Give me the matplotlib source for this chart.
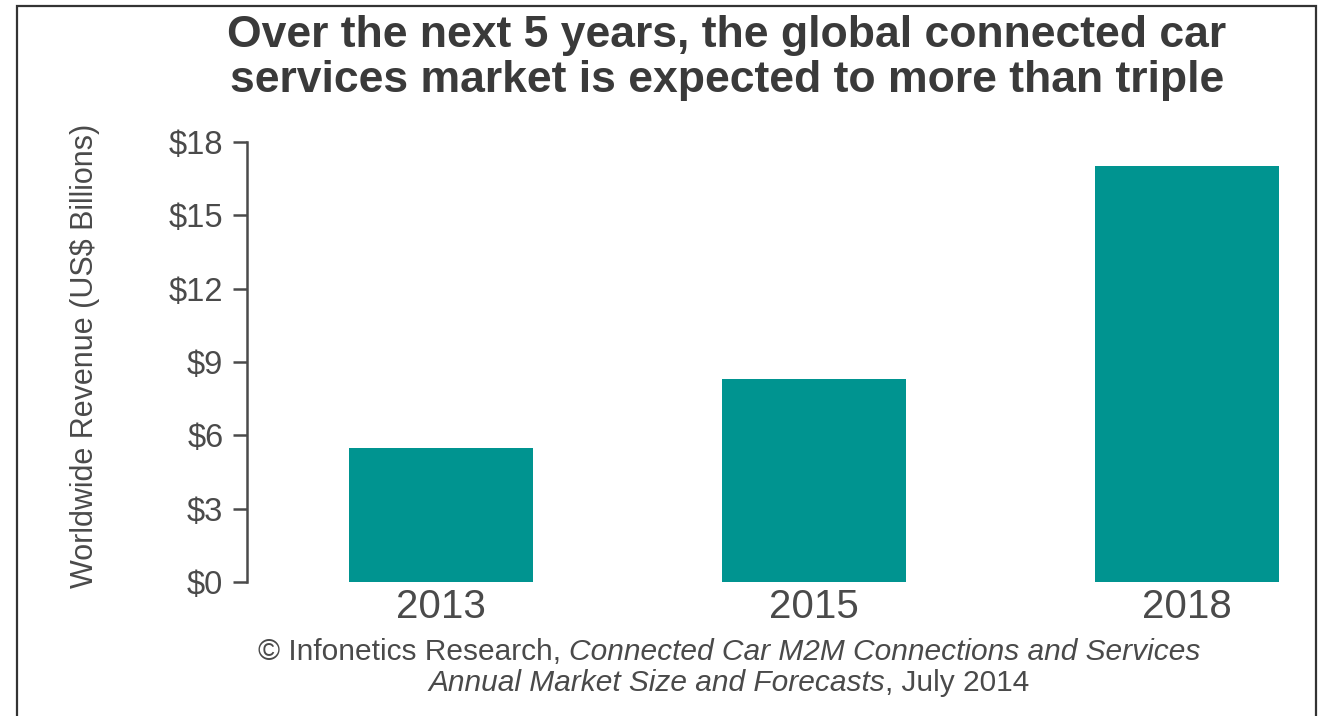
import matplotlib
matplotlib.use("Agg")
import matplotlib.pyplot as plt
from matplotlib.patches import Rectangle

years = ["2013", "2015", "2018"]
revenue = [5.5, 8.3, 17.0]
yticks = [0, 3, 6, 9, 12, 15, 18]
ytick_labels = ["$0", "$3", "$6", "$9", "$12", "$15", "$18"]

title_lines = ["Over the next 5 years, the global connected car",
               "services market is expected to more than triple"]
ylabel = "Worldwide Revenue (US$ Billions)"
source_line1 = [("\u00a9 Infonetics Research, ", "normal"),
                ("Connected Car M2M Connections and Services", "italic")]
source_line2 = [("Annual Market Size and Forecasts", "italic"),
                (", July 2014", "normal")]

TEAL = "#009490"
DARK = "#3a3a3a"
GRAY = "#4a4a4a"

plt.rcParams["font.family"] = ["Liberation Sans", "DejaVu Sans"]

W, H = 1332, 716
fig = plt.figure(figsize=(W / 100, H / 100), dpi=100)

ax = fig.add_axes([247 / W, 134 / H, (1300 - 247) / W, 440 / H])
x = list(range(len(years)))
ax.bar(x, revenue, width=0.493, color=TEAL)
ax.set_xlim(-0.52, 2.303)
ax.set_ylim(0, 18)

ax.set_yticks(yticks)
ax.set_yticklabels(ytick_labels)
ax.set_xticks(x)
ax.set_xticklabels(years)

for side in ["top", "right", "bottom"]:
    ax.spines[side].set_visible(False)
ax.spines["left"].set_color(GRAY)
ax.spines["left"].set_linewidth(1.8)
ax.tick_params(axis="y", length=10, width=1.8, color=GRAY, pad=7,
               labelsize=23.5, labelcolor=GRAY)
ax.tick_params(axis="x", length=0, pad=4, labelsize=29, labelcolor=GRAY)

ax.set_ylabel(ylabel, fontsize=22, color=GRAY)
ax.yaxis.set_label_coords(100 / W, 360 / H, transform=fig.transFigure)

# title, two lines
fig.text(727 / W, 1 - 47 / H, title_lines[0], ha="center", va="baseline",
         fontsize=32, fontweight="bold", color=DARK)
fig.text(727 / W, 1 - 92 / H, title_lines[1], ha="center", va="baseline",
         fontsize=32, fontweight="bold", color=DARK)


def mixed_line(parts, y, xc, size):
    # pieces with different styles, centred as one line
    renderer = fig.canvas.get_renderer()
    texts = [fig.text(0, y, s, fontsize=size, style=st, color=GRAY,
                      ha="left", va="baseline") for s, st in parts]
    widths = [t.get_window_extent(renderer).width / W for t in texts]
    left = xc - sum(widths) / 2
    for t, w in zip(texts, widths):
        t.set_x(left)
        left += w


mixed_line(source_line1, 1 - 660 / H, 729 / W, 21.5)
mixed_line(source_line2, 1 - 691 / H, 729 / W, 21.5)

# outer frame (bottom edge is cut off in the source)
fig.add_artist(Rectangle((17 / W, -0.05), (1316 - 17) / W, 1.05 - 6 / H,
                         transform=fig.transFigure, fill=False,
                         edgecolor="#333333", linewidth=1.6))

fig.savefig("out.png", dpi=100)
